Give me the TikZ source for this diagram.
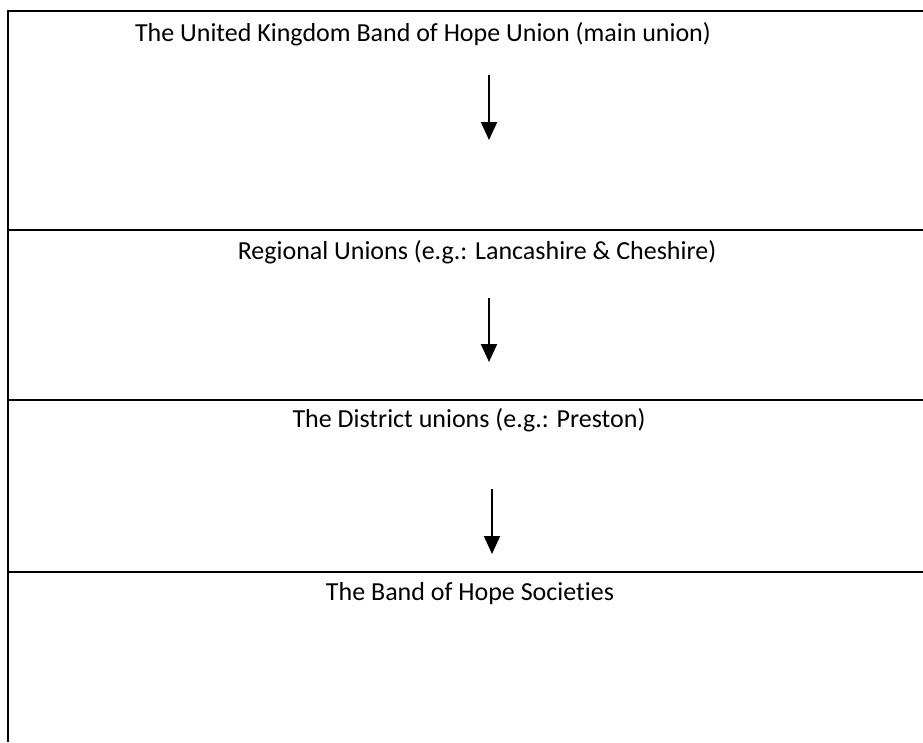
\documentclass[tikz,border=0pt]{standalone}
\usepackage{fontspec}
\setmainfont[Ligatures=NoCommon]{Carlito}
\usetikzlibrary{arrows.meta}
\tikzset{
  rule/.style={line width=2.6pt},
  levellabel/.style={font=\fontsize{26}{30}\selectfont, inner sep=0pt},
  downarrow/.style={line width=2pt, -{Triangle[width=16pt,length=18pt]}}
}

\begin{document}
\begin{tikzpicture}[x=1pt,y=-1pt]
\useasboundingbox (0,0) rectangle (923,742);
% frame
\draw[rule] (923,11) -- (8,11) -- (8,742);
\draw[rule] (8,230) -- (923,230);
\draw[rule] (8,400) -- (923,400);
\draw[rule] (8,572) -- (923,572);
% levels
\node[levellabel] (uk) at (423,34) {The United Kingdom Band of Hope Union (main union)};
\node[levellabel] (regional) at (477,252) {Regional Unions (e.g.: Lancashire \& Cheshire)};
\node[levellabel] (district) at (469,420) {The District unions (e.g.: Preston)};
\node[levellabel] (societies) at (470,594) {The Band of Hope Societies};
% arrows
\coordinate (a1s) at (489,75);
\coordinate (a1e) at (489,140);
\coordinate (a2s) at (489,298);
\coordinate (a2e) at (489,362);
\coordinate (a3s) at (492,489);
\coordinate (a3e) at (492,554);
\draw[downarrow] (a1s) -- (a1e);
\draw[downarrow] (a2s) -- (a2e);
\draw[downarrow] (a3s) -- (a3e);
\end{tikzpicture}
\end{document}
